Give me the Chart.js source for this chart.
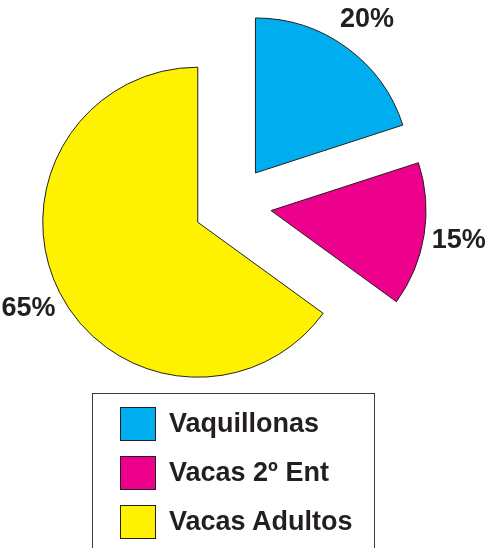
<!DOCTYPE html>
<html>
<head>
<meta charset="utf-8">
<script src="https://cdn.jsdelivr.net/npm/chart.js@4/dist/chart.umd.min.js"></script>
<style>
  html, body { margin: 0; padding: 0; background: #fff; }
  #wrap { position: relative; width: 489px; height: 548px; overflow: hidden; }
  #pie { position: absolute; left: 0; top: 0; }
  #legend {
    position: absolute; left: 92px; top: 393px; width: 283px; height: 170px;
    border: 1px solid #3a3a3a; box-sizing: border-box;
    font-family: "Liberation Sans", Arial, sans-serif; font-weight: bold;
    font-size: 27px; color: #231f20;
  }
  .item { position: absolute; left: 27px; height: 33px; display: flex; align-items: center; }
  .swatch { width: 34px; height: 32px; border: 1px solid #231f20; margin-right: 13px; }
</style>
</head>
<body>
<div id="wrap">
  <canvas id="pie" width="489" height="400"></canvas>
  <div id="legend"></div>
</div>
<script>
const categories = ['Vaquillonas', 'Vacas 2º Ent', 'Vacas Adultos'];
const shares = [20, 15, 65];
const colors = ['#00aeef', '#ec008c', '#fff200'];

const RADIUS = 155;
const OFFSET = 156;      // chart.js v4 moves a slice by offset / 4
const LABEL_DIST = 229;

// chart.js grows offset slices and trims their angle a bit,
// undo that so every slice keeps the same radius and true angle
const keepRadius = {
  id: 'keepRadius',
  afterDatasetUpdate(chart, args) {
    const shift = OFFSET / 4;
    args.meta.data.forEach(arc => {
      const fix = 1 - Math.sin(Math.min(Math.PI, arc.circumference));
      const grow = shift * fix;
      arc.outerRadius = RADIUS - grow;
      const trim = (grow / Math.PI) / RADIUS / 2;
      arc.startAngle -= trim;
      arc.endAngle += trim;
    });
  }
};

// percentage next to each slice
const outsideLabels = {
  id: 'outsideLabels',
  afterDatasetsDraw(chart) {
    const ctx = chart.ctx;
    const arcs = chart.getDatasetMeta(0).data;
    ctx.save();
    ctx.font = 'bold 27px "Liberation Sans", Arial, sans-serif';
    ctx.fillStyle = '#231f20';
    ctx.textAlign = 'center';
    ctx.textBaseline = 'middle';
    arcs.forEach((arc, i) => {
      const mid = (arc.startAngle + arc.endAngle) / 2;
      const x = arc.x + Math.cos(mid) * LABEL_DIST;
      const y = arc.y + Math.sin(mid) * LABEL_DIST;
      ctx.fillText(shares[i] + '%', x, y);
    });
    ctx.restore();
  }
};

const chart = new Chart(document.getElementById('pie'), {
  type: 'pie',
  data: {
    labels: categories,
    datasets: [{
      data: shares,
      backgroundColor: colors,
      borderColor: '#231f20',
      borderWidth: 1,
      borderJoinStyle: 'miter',
      offset: OFFSET
    }]
  },
  options: {
    responsive: false,
    animation: false,
    radius: RADIUS,
    layout: { padding: { left: 0, right: 24, top: 9, bottom: 0 } },
    plugins: {
      legend: { display: false },
      tooltip: { enabled: false }
    }
  },
  plugins: [keepRadius, outsideLabels]
});

// legend box under the pie
const legendEl = document.getElementById('legend');
categories.forEach((name, i) => {
  const item = document.createElement('div');
  item.className = 'item';
  item.style.top = (13 + i * 49) + 'px';
  item.innerHTML = '<div class="swatch" style="background:' + colors[i] + '"></div><span>' + name + '</span>';
  legendEl.appendChild(item);
});
</script>
</body>
</html>
